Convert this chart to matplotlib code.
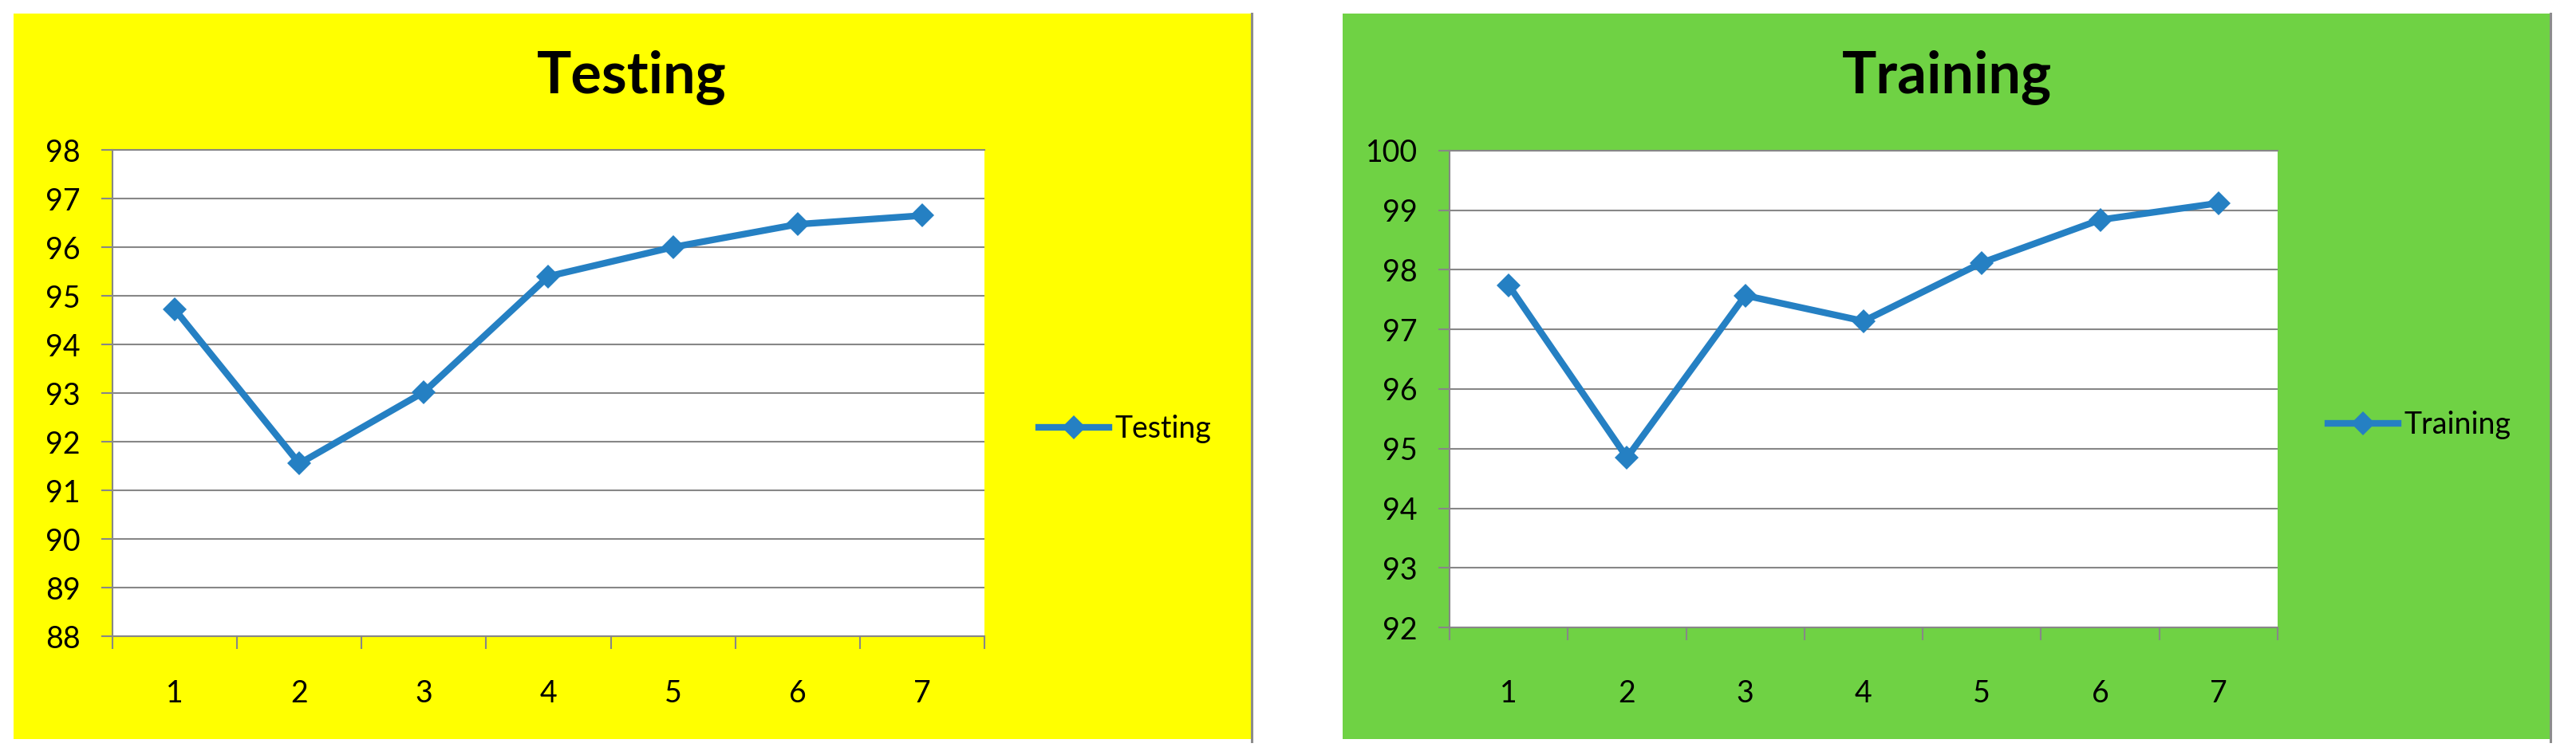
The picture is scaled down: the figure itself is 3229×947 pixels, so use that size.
import matplotlib
matplotlib.use("Agg")
import matplotlib.pyplot as plt
from matplotlib.patches import Rectangle
from matplotlib.lines import Line2D

# data
epochs = [1, 2, 3, 4, 5, 6, 7]
testing = [94.72, 91.55, 93.02, 95.40, 96.00, 96.47, 96.65]
training = [97.74, 94.85, 97.57, 97.14, 98.12, 98.84, 99.12]
testing_yticks = list(range(88, 99))
training_yticks = list(range(92, 101))

W, H = 3230, 947
blue = '#2580c3'
grey = '#878787'

plt.rcParams['font.family'] = ['Lato', 'DejaVu Sans']

fig = plt.figure(figsize=(W / 100, H / 100), dpi=100)
fig.patch.set_facecolor('white')


def fx(x):
    return x / W


def fy(y):
    return 1 - y / H


def panel(x0, x1, color):
    fig.add_artist(Rectangle((fx(x0), fy(927)), fx(x1) - fx(x0), fy(17) - fy(927),
                             transform=fig.transFigure, facecolor=color,
                             edgecolor='none', zorder=0))
    fig.add_artist(Line2D([fx(x1 + 1.5)] * 2, [fy(17), fy(930)], color='#8c8c8c',
                          lw=2.2, transform=fig.transFigure))


def chart(box, values, yticks, name, xpad, title_x, leg_x, leg_y):
    l, t, r, b = box
    ax = fig.add_axes([fx(l), fy(b), fx(r) - fx(l), fy(t) - fy(b)])
    ax.set_facecolor('white')
    ax.plot(epochs, values, color=blue, lw=6, marker='D', ms=15, mew=0,
            solid_joinstyle='miter', label=name, zorder=3)
    ax.set_xlim(0.5, 7.5)
    ax.set_ylim(yticks[0], yticks[-1])
    ax.set_yticks(yticks)
    ax.set_xticks(epochs)
    ax.set_xticks([e - 0.5 for e in epochs] + [7.5], minor=True)
    ax.grid(axis='y', color=grey, lw=1.5)
    ax.set_axisbelow(True)
    for s in ['left', 'bottom', 'top']:
        ax.spines[s].set_color(grey)
        ax.spines[s].set_linewidth(1.5)
    ax.spines['right'].set_visible(False)
    ax.tick_params(axis='y', length=10, width=1.5, color=grey, pad=19,
                   labelsize=27)
    ax.tick_params(axis='x', which='major', length=0, pad=xpad, labelsize=27)
    ax.tick_params(axis='x', which='minor', length=11.5, width=1.5, color=grey)
    fig.text(fx(title_x), fy(116), name, ha='center', va='baseline',
             fontsize=52, fontweight='bold')
    ax.legend(loc='center left', bbox_to_anchor=(fx(leg_x), fy(leg_y)),
              bbox_transform=fig.transFigure, frameon=False, borderpad=0,
              borderaxespad=0, handlelength=2.35, handletextpad=0.2,
              fontsize=27)
    return ax


panel(17, 1568, '#ffff00')
panel(1683, 3196, '#6fd244')

chart((141, 188, 1234, 798), testing, testing_yticks, 'Testing', 39,
      792, 1302, 538)
chart((1817, 189, 2855, 787), training, training_yticks, 'Training', 47,
      2440, 2918, 533)

fig.savefig('out.png', dpi=100)
